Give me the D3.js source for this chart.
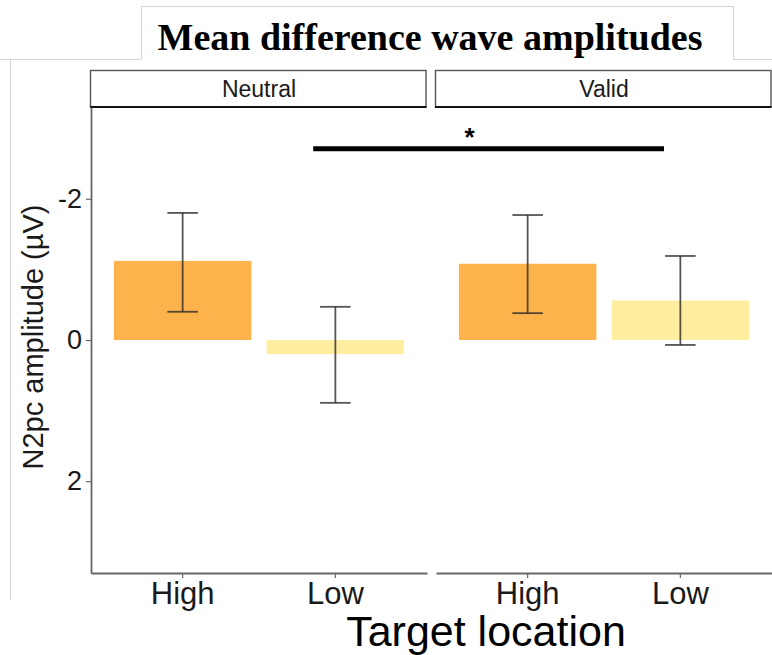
<!DOCTYPE html>
<html>
<head>
<meta charset="utf-8">
<script src="https://cdn.jsdelivr.net/npm/d3@7"></script>
<style>
  body { margin: 0; background: #fff; }
  svg { display: block; }
</style>
</head>
<body>
<div id="chart"></div>
<script>
// data (y in µV, negative is drawn upwards)
var cues = ["Neutral", "Valid"];
var locations = ["High", "Low"];
var means = { Neutral: [-1.12, 0.20], Valid: [-1.08, -0.56] };
var errLow = { Neutral: [-1.80, -0.47], Valid: [-1.77, -1.19] };
var errHigh = { Neutral: [-0.40, 0.89], Valid: [-0.38, 0.07] };
var barColors = ["#FEB24C", "#FFEDA0"];
var yTicks = [-2, 0, 2];
// significance bracket between Neutral-Low and Valid-Low (in axis units)
var sigFrom = { cue: "Neutral", pos: 1.855 };
var sigTo = { cue: "Valid", pos: 1.893 };
var sigY = -2.71;
var sigLabel = "*";
var sigLabelAt = { cue: "Valid", pos: 0.62, y: -2.97 };

var svgWidth = 772;
var svgHeight = 655;

var panelTop = 107;
var panelBottom = 573;
var panelW = 336;
var panelLeft = { Neutral: 91, Valid: 436 };

var svg = d3.select("#chart")
  .append("svg")
  .attr("width", svgWidth)
  .attr("height", svgHeight);

// frame lines from the pasted figure
svg.append("g")
  .attr("stroke", "#d4d4d4")
  .attr("stroke-width", 1)
  .attr("fill", "none")
  .call(function(g) {
    g.append("path").attr("d", "M0,59.5H141.5V6.5H733.5V59.5H772");
    g.append("path").attr("d", "M10.5,59.5V600");
  });

svg.append("text")
  .attr("x", 430)
  .attr("y", 50)
  .attr("text-anchor", "middle")
  .attr("font-family", "Liberation Serif, Times New Roman, serif")
  .attr("font-weight", "bold")
  .attr("font-size", 38)
  .text("Mean difference wave amplitudes");

var yScale = d3.scaleLinear()
  .domain([-3.3, 3.3])
  .range([panelTop, panelBottom]);

var xScale = d3.scaleBand()
  .domain(locations)
  .range([0, panelW])
  .paddingInner(0.1)
  .paddingOuter(0.15);

// position in ggplot units (1 = first category) -> px inside a panel
var unit = xScale.step();
function posX(cue, pos) {
  return panelLeft[cue] + xScale("High") + xScale.bandwidth() / 2 + (pos - 1) * unit;
}

cues.forEach(function(cue, ci) {
  var panel = svg.append("g")
    .attr("transform", "translate(" + panelLeft[cue] + ",0)");

  // strip
  panel.append("rect")
    .attr("x", -0.5)
    .attr("y", 70.5)
    .attr("width", panelW - 0.5)
    .attr("height", 36.5)
    .attr("fill", "#fff")
    .attr("stroke", "#555")
    .attr("stroke-width", 1.4);
  panel.append("line")
    .attr("x1", -1).attr("x2", panelW - 0.5)
    .attr("y1", 107).attr("y2", 107)
    .attr("stroke", "#111")
    .attr("stroke-width", 2.2);
  panel.append("text")
    .attr("x", panelW / 2)
    .attr("y", 97)
    .attr("text-anchor", "middle")
    .attr("font-family", "Liberation Sans, Arial, sans-serif")
    .attr("font-size", 23)
    .attr("fill", "#1a1a1a")
    .text(cue);

  // bars
  panel.append("g")
    .selectAll("rect")
    .data(locations)
    .enter().append("rect")
    .attr("x", d => xScale(d))
    .attr("width", xScale.bandwidth())
    .attr("y", (d, i) => yScale(Math.min(0, means[cue][i])))
    .attr("height", (d, i) => Math.abs(yScale(means[cue][i]) - yScale(0)))
    .attr("fill", (d, i) => barColors[i]);

  // error bars
  var capW = unit * 0.2;
  var eb = panel.append("g")
    .attr("stroke", "#2a2a2a")
    .attr("stroke-opacity", 0.8)
    .attr("stroke-width", 1.8)
    .selectAll("g")
    .data(locations)
    .enter().append("g")
    .attr("transform", d => "translate(" + (xScale(d) + xScale.bandwidth() / 2) + ",0)");
  eb.append("line")
    .attr("y1", (d, i) => yScale(errLow[cue][i]))
    .attr("y2", (d, i) => yScale(errHigh[cue][i]));
  eb.append("line")
    .attr("x1", -capW / 2).attr("x2", capW / 2)
    .attr("y1", (d, i) => yScale(errLow[cue][i]))
    .attr("y2", (d, i) => yScale(errLow[cue][i]));
  eb.append("line")
    .attr("x1", -capW / 2).attr("x2", capW / 2)
    .attr("y1", (d, i) => yScale(errHigh[cue][i]))
    .attr("y2", (d, i) => yScale(errHigh[cue][i]));

  // bottom axis
  var bottom = panel.append("g")
    .attr("transform", "translate(0," + panelBottom + ")")
    .call(d3.axisBottom(xScale).tickSize(5).tickSizeOuter(0).tickPadding(4));
  bottom.select(".domain").attr("stroke", "#666").attr("stroke-width", 1.8);
  bottom.selectAll(".tick line").attr("stroke", "#666").attr("stroke-width", 1.2);
  bottom.selectAll("text")
    .attr("font-family", "Liberation Sans, Arial, sans-serif")
    .attr("font-size", 31)
    .attr("fill", "#1a1a1a");

  if (ci === 0) {
    var left = panel.append("g")
      .call(d3.axisLeft(yScale).tickValues(yTicks).tickFormat(d => String(d))
        .tickSize(5).tickSizeOuter(0).tickPadding(4));
    left.select(".domain").attr("stroke", "#666").attr("stroke-width", 1.8);
    left.selectAll(".tick line").attr("stroke", "#666").attr("stroke-width", 1.2);
    left.selectAll("text")
      .attr("font-family", "Liberation Sans, Arial, sans-serif")
      .attr("font-size", 27)
      .attr("fill", "#1a1a1a");
  }
});

// significance bar
svg.append("line")
  .attr("x1", posX(sigFrom.cue, sigFrom.pos))
  .attr("x2", posX(sigTo.cue, sigTo.pos))
  .attr("y1", yScale(sigY))
  .attr("y2", yScale(sigY))
  .attr("stroke", "#000")
  .attr("stroke-width", 5);
svg.append("text")
  .attr("x", posX(sigLabelAt.cue, sigLabelAt.pos))
  .attr("y", yScale(sigLabelAt.y))
  .attr("dy", "0.62em")
  .attr("text-anchor", "middle")
  .attr("font-family", "Liberation Sans, Arial, sans-serif")
  .attr("font-weight", "bold")
  .attr("font-size", 26)
  .text(sigLabel);

// axis titles
svg.append("text")
  .attr("transform", "translate(43,337) rotate(-90)")
  .attr("text-anchor", "middle")
  .attr("font-family", "Liberation Sans, Arial, sans-serif")
  .attr("font-size", 29)
  .attr("fill", "#1a1a1a")
  .text("N2pc amplitude (µV)");

svg.append("text")
  .attr("x", 486)
  .attr("y", 646)
  .attr("text-anchor", "middle")
  .attr("font-family", "Liberation Sans, Arial, sans-serif")
  .attr("font-size", 43)
  .attr("fill", "#000")
  .text("Target location");
</script>
</body>
</html>
